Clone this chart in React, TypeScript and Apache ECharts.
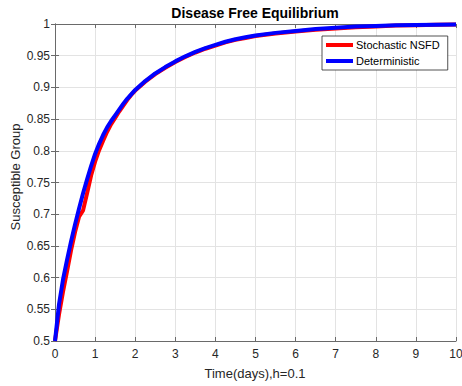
import React, { useEffect, useRef } from "react";
import * as echarts from "echarts";

const times = [0, 0.1, 0.2, 0.3, 0.4, 0.5, 0.6, 0.7, 0.8, 0.9, 1.0, 1.1, 1.2, 1.3, 1.4, 1.5, 1.6, 1.7, 1.8, 1.9, 2.0, 2.25, 2.5, 2.75, 3.0, 3.25, 3.5, 3.75, 4.0, 4.25, 4.5, 4.75, 5.0, 5.5, 6.0, 6.5, 7.0, 7.5, 8.0, 8.5, 9.0, 9.5, 10];
const deterministic = [0.5, 0.558, 0.597, 0.628, 0.657, 0.684, 0.709, 0.733, 0.755, 0.776, 0.795, 0.811, 0.825, 0.837, 0.847, 0.856, 0.865, 0.874, 0.882, 0.889, 0.896, 0.910, 0.922, 0.932, 0.941, 0.949, 0.956, 0.962, 0.967, 0.972, 0.976, 0.979, 0.982, 0.986, 0.989, 0.992, 0.994, 0.996, 0.997, 0.998, 0.9985, 0.999, 0.9993];
const stochastic = [0.5, 0.542, 0.578, 0.61, 0.643, 0.672, 0.696, 0.706, 0.733, 0.761, 0.783, 0.801, 0.816, 0.83, 0.842, 0.852, 0.862, 0.871, 0.88, 0.888, 0.895, 0.909, 0.921, 0.931, 0.94, 0.948, 0.955, 0.961, 0.966, 0.971, 0.975, 0.978, 0.981, 0.985, 0.988, 0.991, 0.993, 0.995, 0.996, 0.9975, 0.998, 0.9988, 0.9992];
const seriesNames = ["Stochastic NSFD", "Deterministic"];

const FONT = "'Liberation Sans', Arial, Helvetica, sans-serif";
const TXT = "#262626";
const AXC = "#6a6a6a";

export default function App() {
  const ref = useRef<HTMLDivElement>(null);
  useEffect(() => {
    const chart = echarts.init(ref.current!, null, { renderer: "svg" });
    const pairs = (ys: number[]) => times.map((t, i) => [t, ys[i]]);
    const axisCommon = {
      axisLine: { show: true, lineStyle: { color: AXC, width: 1 } },
      axisTick: { show: true, inside: true, length: 4, lineStyle: { color: AXC } },
    };
    chart.setOption({
      animation: false,
      backgroundColor: "#ffffff",
      textStyle: { fontFamily: FONT },
      grid: { left: 55, right: 6, top: 24, bottom: 45, containLabel: false, outerBoundsMode: "none" },
      xAxis: [
        {
          type: "value", min: 0, max: 10, interval: 1, position: "bottom",
          ...axisCommon,
          axisLabel: { color: TXT, fontSize: 12, margin: 7, fontFamily: FONT },
          splitLine: { show: true, lineStyle: { color: "#e3e3e3", width: 1 } },
        },
        {
          type: "value", min: 0, max: 10, interval: 1, position: "top",
          ...axisCommon,
          axisLabel: { show: false },
          splitLine: { show: false },
        },
      ],
      yAxis: [
        {
          type: "value", min: 0.5, max: 1, interval: 0.05, position: "left",
          ...axisCommon,
          axisLabel: { color: TXT, fontSize: 12, margin: 5, fontFamily: FONT },
          splitLine: { show: true, lineStyle: { color: "#e3e3e3", width: 1 } },
        },
        {
          type: "value", min: 0.5, max: 1, interval: 0.05, position: "right",
          ...axisCommon,
          axisLabel: { show: false },
          splitLine: { show: false },
        },
      ],
      legend: {
        left: 322, top: 36, orient: "vertical",
        data: seriesNames,
        icon: "rect", itemWidth: 27, itemHeight: 4, itemGap: 3,
        padding: [2.5, 8, 2.5, 4],
        borderColor: "#262626", borderWidth: 0.8, backgroundColor: "#ffffff",
        textStyle: { color: "#000", fontSize: 11, lineHeight: 13, fontFamily: FONT, padding: [0, 0, 0, -2] },
      },
      graphic: [
        { type: "text", x: 255, y: 12.5, style: { text: "Disease Free Equilibrium", font: `bold 14px ${FONT}`, fill: "#000", textAlign: "center", textVerticalAlign: "middle" } },
        { type: "text", x: 255, y: 373, style: { text: "Time(days),h=0.1", font: `13px ${FONT}`, fill: TXT, textAlign: "center", textVerticalAlign: "middle" } },
        { type: "text", x: 15, y: 177, rotation: Math.PI / 2, style: { text: "Susceptible Group", font: `13px ${FONT}`, fill: TXT, textAlign: "center", textVerticalAlign: "middle" } },
      ],
      series: [
        { name: seriesNames[0], type: "line", data: pairs(stochastic), showSymbol: false, symbol: "none", lineStyle: { color: "#ff0000", width: 4, join: "round" }, itemStyle: { color: "#ff0000" }, z: 2 },
        { name: seriesNames[1], type: "line", data: pairs(deterministic), showSymbol: false, symbol: "none", lineStyle: { color: "#0000ff", width: 4, join: "round" }, itemStyle: { color: "#0000ff" }, z: 3 },
      ],
    });
    return () => chart.dispose();
  }, []);
  return <div ref={ref} style={{ position: "fixed", left: 0, top: 0, width: 462, height: 386 }} />;
}
